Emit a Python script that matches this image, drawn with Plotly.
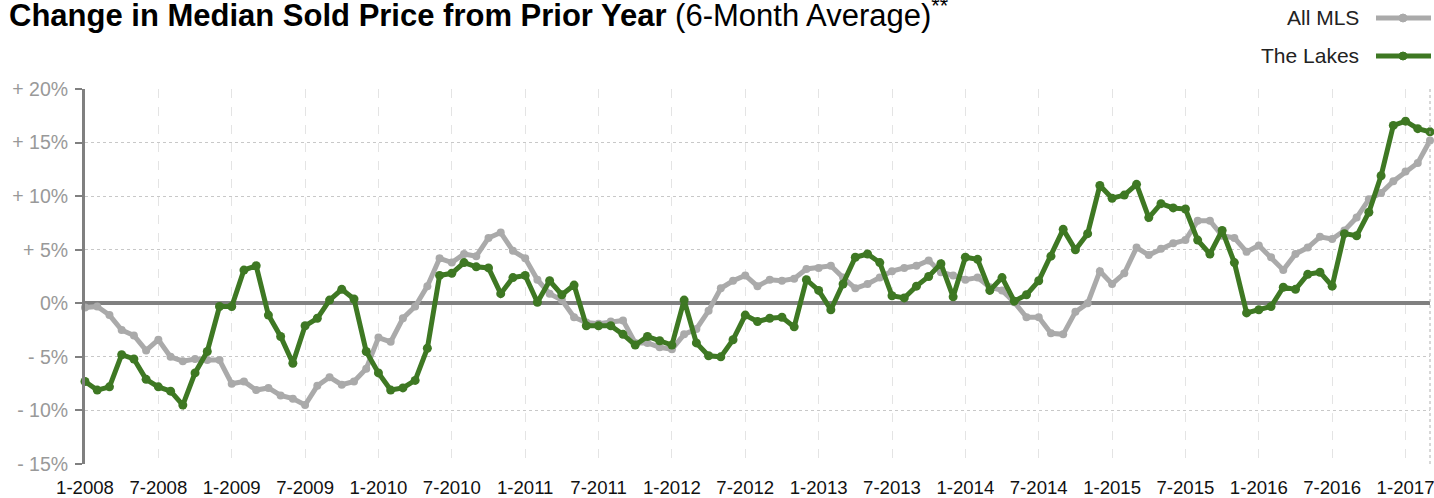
import plotly.graph_objects as go

# ---- data ----
months = [f"{m}-{y}" for y in range(2008, 2018) for m in range(1, 13)][:111]

all_mls = [-0.4, -0.3, -1.1, -2.5, -3.0, -4.4, -3.4, -5.0, -5.4, -5.2, -5.3, -5.3,
           -7.5, -7.3, -8.1, -7.9, -8.6, -8.9, -9.5, -7.7, -6.9, -7.6, -7.3, -6.1,
           -3.2, -3.6, -1.4, -0.3, 1.6, 4.2, 3.8, 4.6, 4.4, 6.1, 6.6, 4.9,
           4.2, 2.2, 0.9, 0.3, -1.3, -1.8, -1.9, -1.7, -1.6, -3.7, -3.7, -4.1,
           -4.3, -2.9, -2.4, -0.7, 1.4, 2.1, 2.6, 1.6, 2.2, 2.1, 2.3, 3.2,
           3.3, 3.5, 2.4, 1.4, 1.8, 2.4, 3.0, 3.3, 3.5, 4.0, 2.9, 2.6,
           2.2, 2.4, 1.5, 1.2, 0.1, -1.3, -1.3, -2.8, -2.9, -0.8, 0.0, 3.0,
           1.8, 2.8, 5.2, 4.5, 5.1, 5.6, 5.9, 7.7, 7.7, 6.3, 6.1, 4.8,
           5.4, 4.3, 3.1, 4.6, 5.2, 6.2, 6.0, 6.8, 8.0, 9.7, 10.3, 11.4,
           12.3, 13.1, 15.2]

the_lakes = [-7.3, -8.1, -7.8, -4.8, -5.2, -7.1, -7.8, -8.2, -9.5, -6.5, -4.5, -0.3,
             -0.3, 3.1, 3.5, -1.1, -3.1, -5.6, -2.1, -1.4, 0.3, 1.3, 0.4, -4.5,
             -6.5, -8.1, -7.9, -7.2, -4.2, 2.6, 2.8, 3.8, 3.4, 3.3, 0.9, 2.4,
             2.6, 0.1, 2.1, 0.8, 1.7, -2.1, -2.1, -2.1, -2.9, -3.9, -3.1, -3.5,
             -3.9, 0.3, -3.7, -4.9, -5.0, -3.4, -1.1, -1.7, -1.4, -1.3, -2.2, 2.2,
             1.2, -0.6, 1.8, 4.3, 4.6, 3.8, 0.7, 0.5, 1.6, 2.5, 3.7, 0.6,
             4.3, 4.1, 1.2, 2.4, 0.2, 0.8, 2.1, 4.4, 6.9, 5.0, 6.5, 11.0,
             9.8, 10.1, 11.1, 8.0, 9.3, 8.9, 8.8, 5.9, 4.6, 6.8, 3.8, -0.9,
             -0.6, -0.3, 1.5, 1.3, 2.7, 2.9, 1.6, 6.5, 6.3, 8.5, 11.9, 16.6,
             17.0, 16.3, 16.0]

y_ticks = [20, 15, 10, 5, 0, -5, -10, -15]
y_tick_text = ["+ 20%", "+ 15%", "+ 10%", "+ 5%", "0%", "- 5%", "- 10%", "- 15%"]
x_ticks = months[::6]

GRAY = "#aaaaaa"
GREEN = "#3e7823"
FONT = "Liberation Sans, Arial, Helvetica, sans-serif"

L, R, T, B = 85, 4, 89, 34
W, H = 1434, 498
PW, PH = W - L - R, H - T - B


def px_x(x):
    return (x - L) / PW


def px_y(y):
    return 1 + (T - y) / PH


fig = go.Figure()
fig.add_trace(go.Scatter(x=months, y=all_mls, mode="lines+markers", name="All MLS",
                         line=dict(color=GRAY, width=5), marker=dict(size=8, color=GRAY),
                         cliponaxis=False))
fig.add_trace(go.Scatter(x=months, y=the_lakes, mode="lines+markers", name="The Lakes",
                         line=dict(color=GREEN, width=5), marker=dict(size=9, color=GREEN),
                         cliponaxis=False))

fig.update_layout(
    width=W, height=H,
    margin=dict(l=L, r=R, t=T, b=B, autoexpand=False),
    plot_bgcolor="white", paper_bgcolor="white",
    showlegend=False,
    font=dict(family=FONT, size=18, color="#222222"),
)
fig.update_xaxes(
    type="category", range=[0, len(months) - 1], automargin=False,
    tickmode="array", tickvals=x_ticks, ticktext=x_ticks,
    showgrid=True, gridcolor="#e4e4e4", gridwidth=1, griddash="dash",
    showline=False, ticks="", ticklabelstandoff=10,
    tickfont=dict(size=18.6, color="#111111"),
)
fig.update_yaxes(
    range=[-15, 20], automargin=False,
    tickmode="array", tickvals=y_ticks, ticktext=y_tick_text,
    showgrid=True, gridcolor="#c8c8c8", gridwidth=1, griddash="dot",
    zeroline=True, zerolinecolor="#808080", zerolinewidth=4,
    showline=True, linecolor="#808080", linewidth=3,
    ticks="outside", ticklen=7, tickwidth=2, tickcolor="#808080",
    ticklabelstandoff=3,
    tickfont=dict(size=19.5, color="#999999"),
)

# right dotted border
fig.add_shape(type="line", xref="paper", yref="paper", x0=1, x1=1, y0=0, y1=1,
              line=dict(color="#b0b0b0", width=1, dash="dot"))

# title
fig.add_annotation(
    xref="paper", yref="paper", x=px_x(7), y=px_y(13), xanchor="left", yanchor="middle",
    text="<b>Change in Median Sold Price from Prior Year</b> (6-Month Average)<sup>**</sup>",
    showarrow=False,
    font=dict(family=FONT, size=31, color="#000000"),
)

# legend (text left of symbol)
legend_items = [("All MLS", GRAY, 18), ("The Lakes", GREEN, 56)]
for label, col, ypx in legend_items:
    yp = px_y(ypx)
    fig.add_annotation(xref="paper", yref="paper", x=px_x(1361), y=yp,
                       xanchor="right", yanchor="middle", text=label, showarrow=False,
                       font=dict(family=FONT, size=21, color="#222222"))
    fig.add_shape(type="line", xref="paper", yref="paper",
                  x0=px_x(1376), x1=px_x(1431), y0=yp, y1=yp,
                  line=dict(color=col, width=5))
    fig.add_shape(type="circle", xref="paper", yref="paper",
                  x0=px_x(1399), x1=px_x(1407), y0=yp - 4 / PH, y1=yp + 4 / PH,
                  line=dict(color=col, width=1), fillcolor=col)

fig.write_html("out.html", config={"displayModeBar": False},
               post_script="document.body.style.margin='0';")
